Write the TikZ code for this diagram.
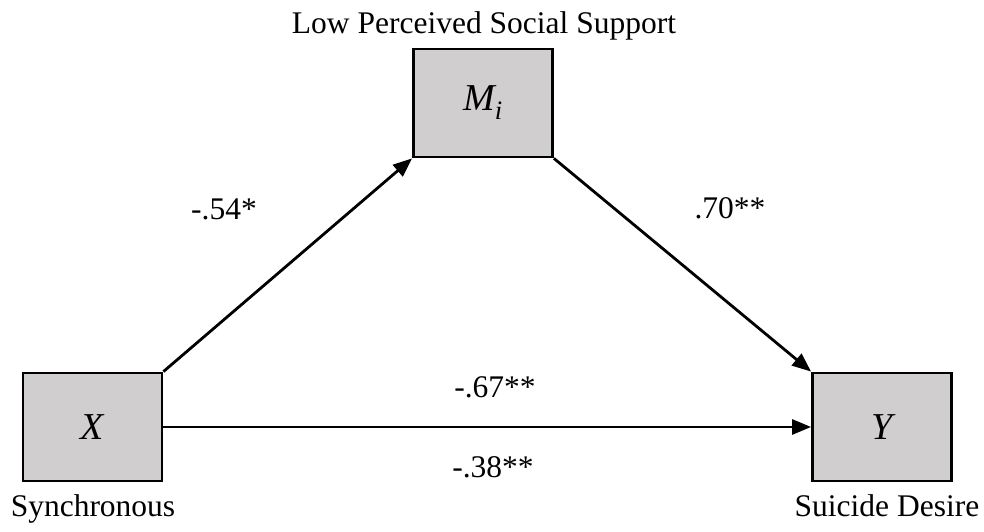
\documentclass[tikz,border=0pt]{standalone}
\usepackage{fontspec}
\setmainfont{Liberation Serif}
\usetikzlibrary{arrows.meta}
\definecolor{boxgray}{RGB}{208,206,206}

\begin{document}
\begin{tikzpicture}[
  x=1pt,y=1pt,
  font=\fontsize{31.5}{38}\selectfont,
  var/.style={draw,line width=2.8pt,fill=boxgray,minimum width=139pt,
              minimum height=108pt,inner sep=0pt,
              font=\fontsize{38}{44}\selectfont\itshape},
  tag/.style={inner sep=0pt,anchor=base},
  arrow/.style={-{Triangle[length=19pt,width=15pt]},line width=2.8pt}
]
\useasboundingbox (0,0) rectangle (984,532);
\node[var] (X) at (92.5,105) {X};
\node[var] (M) at (483,429) {M\textsubscript{i}};
\node[var] (Y) at (882,105) {Y};

\node[tag] (xlab) at (93,15) {Synchronous};
\node[tag] (mlab) at (484,498) {Low Perceived Social Support};
\node[tag] (ylab) at (887,15) {Suicide Desire};

\draw[arrow] (X.north east) -- (M.south west);
\draw[arrow] (M.south east) -- (Y.north west);
\draw[arrow] (X.east) -- (Y.west);

\node[tag] (a) at (224,312) {-.54*};
\node[tag] (b) at (730,313) {.70**};
\node[tag] (c) at (495,134) {-.67**};
\node[tag] (cp) at (493,54) {-.38**};
\end{tikzpicture}
\end{document}
